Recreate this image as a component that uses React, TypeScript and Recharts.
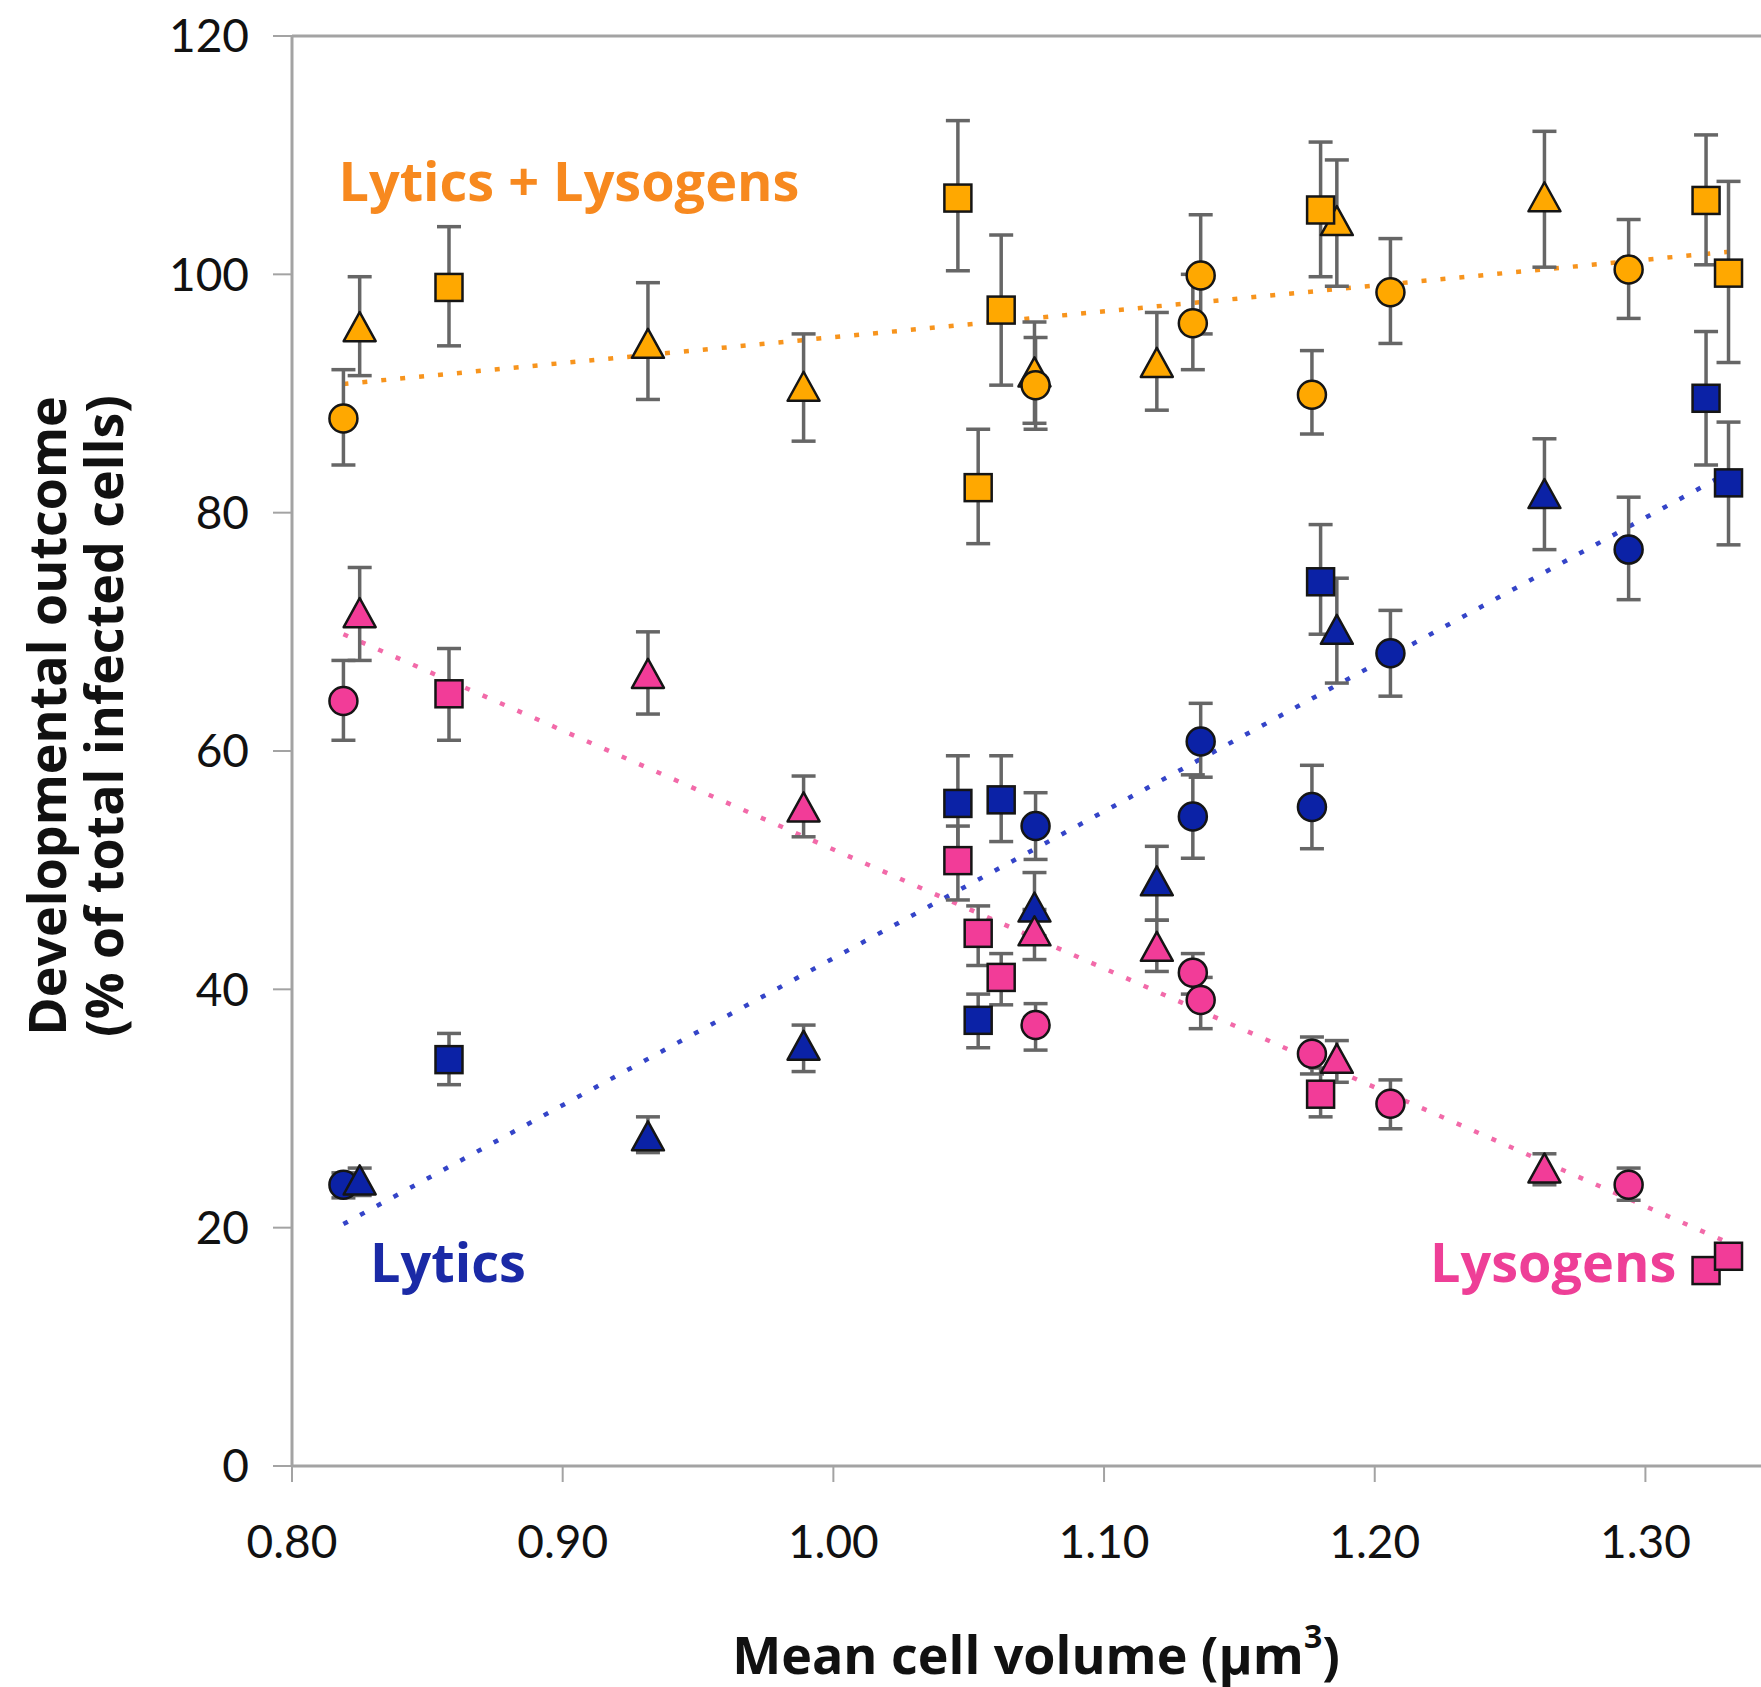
import React from 'react'
import {
  ScatterChart,
  Scatter,
  XAxis,
  YAxis,
  ErrorBar,
  ReferenceLine,
  ReferenceDot,
} from 'recharts'

// mean cell volume (µm³) per experiment, grouped by marker shape
const xCircle = [0.819, 1.0747, 1.1328, 1.1357, 1.1768, 1.2058, 1.2938]
const xTriangle = [0.825, 0.9315, 0.989, 1.0743, 1.1195, 1.186, 1.2627]
const xSquare = [0.858, 1.046, 1.0535, 1.062, 1.18, 1.3224, 1.3307]

// [value, error low, error high] in % of total infected cells
const totalCircle = [[87.9, 84, 92], [90.7, 87, 94.7], [95.9, 92, 100], [99.9, 95, 105], [89.9, 86.6, 93.6], [98.5, 94.2, 103], [100.4, 96.3, 104.6]]
const totalTriangle = [[95.4, 91.5, 99.8], [94.0, 89.5, 99.3], [90.4, 86, 95], [91.6, 87.5, 96], [92.4, 88.6, 96.8], [104.3, 99, 109.6], [106.3, 100.6, 112]]
const totalSquare = [[98.9, 94, 104], [106.4, 100.3, 112.9], [82.1, 77.4, 87], [97.0, 90.7, 103.3], [105.4, 99.8, 111.1], [106.2, 100.8, 111.7], [100.1, 92.6, 107.8]]

const lyticCircle = [[23.6, 22.5, 24.6], [53.7, 50.9, 56.5], [54.5, 51, 58], [60.8, 57.8, 64], [55.3, 51.8, 58.8], [68.2, 64.6, 71.8], [76.9, 72.7, 81.3]]
const lyticTriangle = [[23.8, 22.7, 25], [27.5, 26.3, 29.3], [35.1, 33.1, 37], [46.7, 44.5, 49.8], [48.9, 45.8, 52], [70, 65.7, 74.5], [81.4, 76.9, 86.2]]
const lyticSquare = [[34.1, 32, 36.3], [55.6, 51.5, 59.6], [37.4, 35.1, 39.6], [55.9, 52.4, 59.6], [74.2, 69.8, 79], [89.6, 84, 95.2], [82.5, 77.3, 87.6]]

const lysoCircle = [[64.2, 60.9, 67.6], [37, 34.9, 38.8], [41.4, 39.6, 43], [39.1, 36.7, 41], [34.6, 32.9, 36], [30.4, 28.3, 32.4], [23.6, 22.3, 25]]
const lysoTriangle = [[71.4, 67.6, 75.4], [66.3, 63.1, 70], [55.1, 52.8, 57.9], [44.7, 42.5, 46.7], [43.4, 41.5, 45.8], [34, 32.2, 35.7], [24.8, 23.6, 26.2]]
const lysoSquare = [[64.8, 60.9, 68.6], [50.8, 47.5, 53.7], [44.7, 42, 47], [41, 38.7, 43], [31.2, 29.3, 33.4], [16.4, 16, 17], [17.6, 17.2, 18]]

// linear trend endpoints [x, y]
const totalTrend = [[0.819, 90.8], [1.331, 101.9]]
const lyticTrend = [[0.819, 20.3], [1.331, 83.4]]
const lysoTrend = [[0.819, 69.8], [1.331, 18.7]]

const xTicks = [0.8, 0.9, 1.0, 1.1, 1.2, 1.3]
const yTicks = [0, 20, 40, 60, 80, 100, 120]

const ORANGE = '#ffa800'
const BLUE = '#0b22a6'
const PINK = '#f23c98'
const AXIS = '#a3a3a3'
const ERR = '#666666'
const TITLE_FONT = "'Open Sans', sans-serif"
const TICK_FONT = "Lato, sans-serif"

const toRows = (xs: number[], vals: number[][]) =>
  xs.map((x, i) => ({ x, y: vals[i][0], err: [vals[i][0] - vals[i][1], vals[i][2] - vals[i][0]] }))

const CircleMark = (p: any) => (
  <circle cx={p.cx} cy={p.cy} r={14} fill={p.fill} stroke="#151515" strokeWidth={2.5} />
)
const SquareMark = (p: any) => (
  <rect x={p.cx - 13.5} y={p.cy - 13.5} width={27} height={27} fill={p.fill} stroke="#151515" strokeWidth={2.5} />
)
const TriangleMark = (p: any) => (
  <polygon
    points={`${p.cx},${p.cy - 17} ${p.cx + 16},${p.cy + 12} ${p.cx - 16},${p.cy + 12}`}
    fill={p.fill}
    stroke="#151515"
    strokeWidth={2.5}
    strokeLinejoin="round"
  />
)

const SERIES = [
  { name: 'total-triangle', xs: xTriangle, vals: totalTriangle, color: ORANGE, shape: TriangleMark },
  { name: 'total-square', xs: xSquare, vals: totalSquare, color: ORANGE, shape: SquareMark },
  { name: 'total-circle', xs: xCircle, vals: totalCircle, color: ORANGE, shape: CircleMark },
  { name: 'lytic-circle', xs: xCircle, vals: lyticCircle, color: BLUE, shape: CircleMark },
  { name: 'lytic-triangle', xs: xTriangle, vals: lyticTriangle, color: BLUE, shape: TriangleMark },
  { name: 'lytic-square', xs: xSquare, vals: lyticSquare, color: BLUE, shape: SquareMark },
  { name: 'lyso-circle', xs: xCircle, vals: lysoCircle, color: PINK, shape: CircleMark },
  { name: 'lyso-triangle', xs: xTriangle, vals: lysoTriangle, color: PINK, shape: TriangleMark },
  { name: 'lyso-square', xs: xSquare, vals: lysoSquare, color: PINK, shape: SquareMark },
]

const TRENDS = [
  { pts: totalTrend, color: '#f7941d' },
  { pts: lyticTrend, color: '#3444c8' },
  { pts: lysoTrend, color: '#f26aa9' },
]

const seriesLabel = (text: string, color: string) => (props: any) => {
  const vb = props.viewBox || {}
  const cx = (vb.x ?? 0) + (vb.width ?? 0) / 2
  const cy = (vb.y ?? 0) + (vb.height ?? 0) / 2
  return (
    <text
      x={cx}
      y={cy}
      textAnchor="middle"
      dominantBaseline="central"
      fill={color}
      fontSize={54}
      fontWeight={700}
      fontFamily={TITLE_FONT}
    >
      {text}
    </text>
  )
}

const yTitle = () => (
  <g fontFamily={TITLE_FONT} fontWeight={700} fontSize={52} fill="#111">
    <text x={45} y={716} transform="rotate(-90, 45, 716)" textAnchor="middle" dominantBaseline="central">
      Developmental outcome
    </text>
    <text x={102} y={716} transform="rotate(-90, 102, 716)" textAnchor="middle" dominantBaseline="central">
      (% of total infected cells)
    </text>
  </g>
)

const xTitle = () => (
  <text
    x={1036}
    y={1653}
    textAnchor="middle"
    dominantBaseline="central"
    fontFamily={TITLE_FONT}
    fontWeight={700}
    fontSize={52}
    fill="#111"
  >
    Mean cell volume (μm
    <tspan fontSize={32} dy={-18}>3</tspan>
    <tspan dy={18}>)</tspan>
  </text>
)

export default function App() {
  return (
    <div style={{ position: 'absolute', left: 0, top: 0, width: 1761, height: 1687, background: '#fff' }}>
      <ScatterChart width={1761} height={1687} margin={{ top: 36, right: 0, bottom: 0, left: 0 }}>
        <XAxis
          type="number"
          dataKey="x"
          domain={[0.8, 1.3427]}
          ticks={xTicks}
          allowDataOverflow
          tickFormatter={(v: number) => v.toFixed(2)}
          height={221}
          axisLine={{ stroke: AXIS, strokeWidth: 3 }}
          tickLine={{ stroke: AXIS, strokeWidth: 2 }}
          tickSize={16}
          tickMargin={43}
          tick={{ fill: '#111', fontSize: 46, fontFamily: TICK_FONT }}
          label={xTitle}
        />
        <YAxis
          type="number"
          dataKey="y"
          domain={[0, 120]}
          ticks={yTicks}
          allowDataOverflow
          width={292}
          axisLine={{ stroke: AXIS, strokeWidth: 3 }}
          tickLine={{ stroke: AXIS, strokeWidth: 2 }}
          tickSize={19}
          tickMargin={24}
          tick={{ fill: '#111', fontSize: 46, fontFamily: TICK_FONT }}
          label={yTitle}
        />
        <ReferenceLine y={120} stroke={AXIS} strokeWidth={3} />
        {TRENDS.map((t, i) => (
          <ReferenceLine
            key={i}
            segment={[{ x: t.pts[0][0], y: t.pts[0][1] }, { x: t.pts[1][0], y: t.pts[1][1] }]}
            stroke={t.color}
            strokeWidth={4.5}
            strokeDasharray="5 14"
          />
        ))}
        {SERIES.map(s => (
          <Scatter
            key={s.name}
            name={s.name}
            data={toRows(s.xs, s.vals)}
            fill={s.color}
            shape={s.shape}
            isAnimationActive={false}
          >
            <ErrorBar dataKey="err" direction="y" width={12} stroke={ERR} strokeWidth={3.5} />
          </Scatter>
        ))}
        <ReferenceDot x={0.9023} y={107.9} r={0} stroke="none" label={{ content: seriesLabel('Lytics + Lysogens', '#f7891f') }} />
        <ReferenceDot x={0.8576} y={17.2} r={0} stroke="none" label={{ content: seriesLabel('Lytics', '#1b2aa6') }} />
        <ReferenceDot x={1.2659} y={17.2} r={0} stroke="none" label={{ content: seriesLabel('Lysogens', '#ee3f97') }} />
      </ScatterChart>
    </div>
  )
}
